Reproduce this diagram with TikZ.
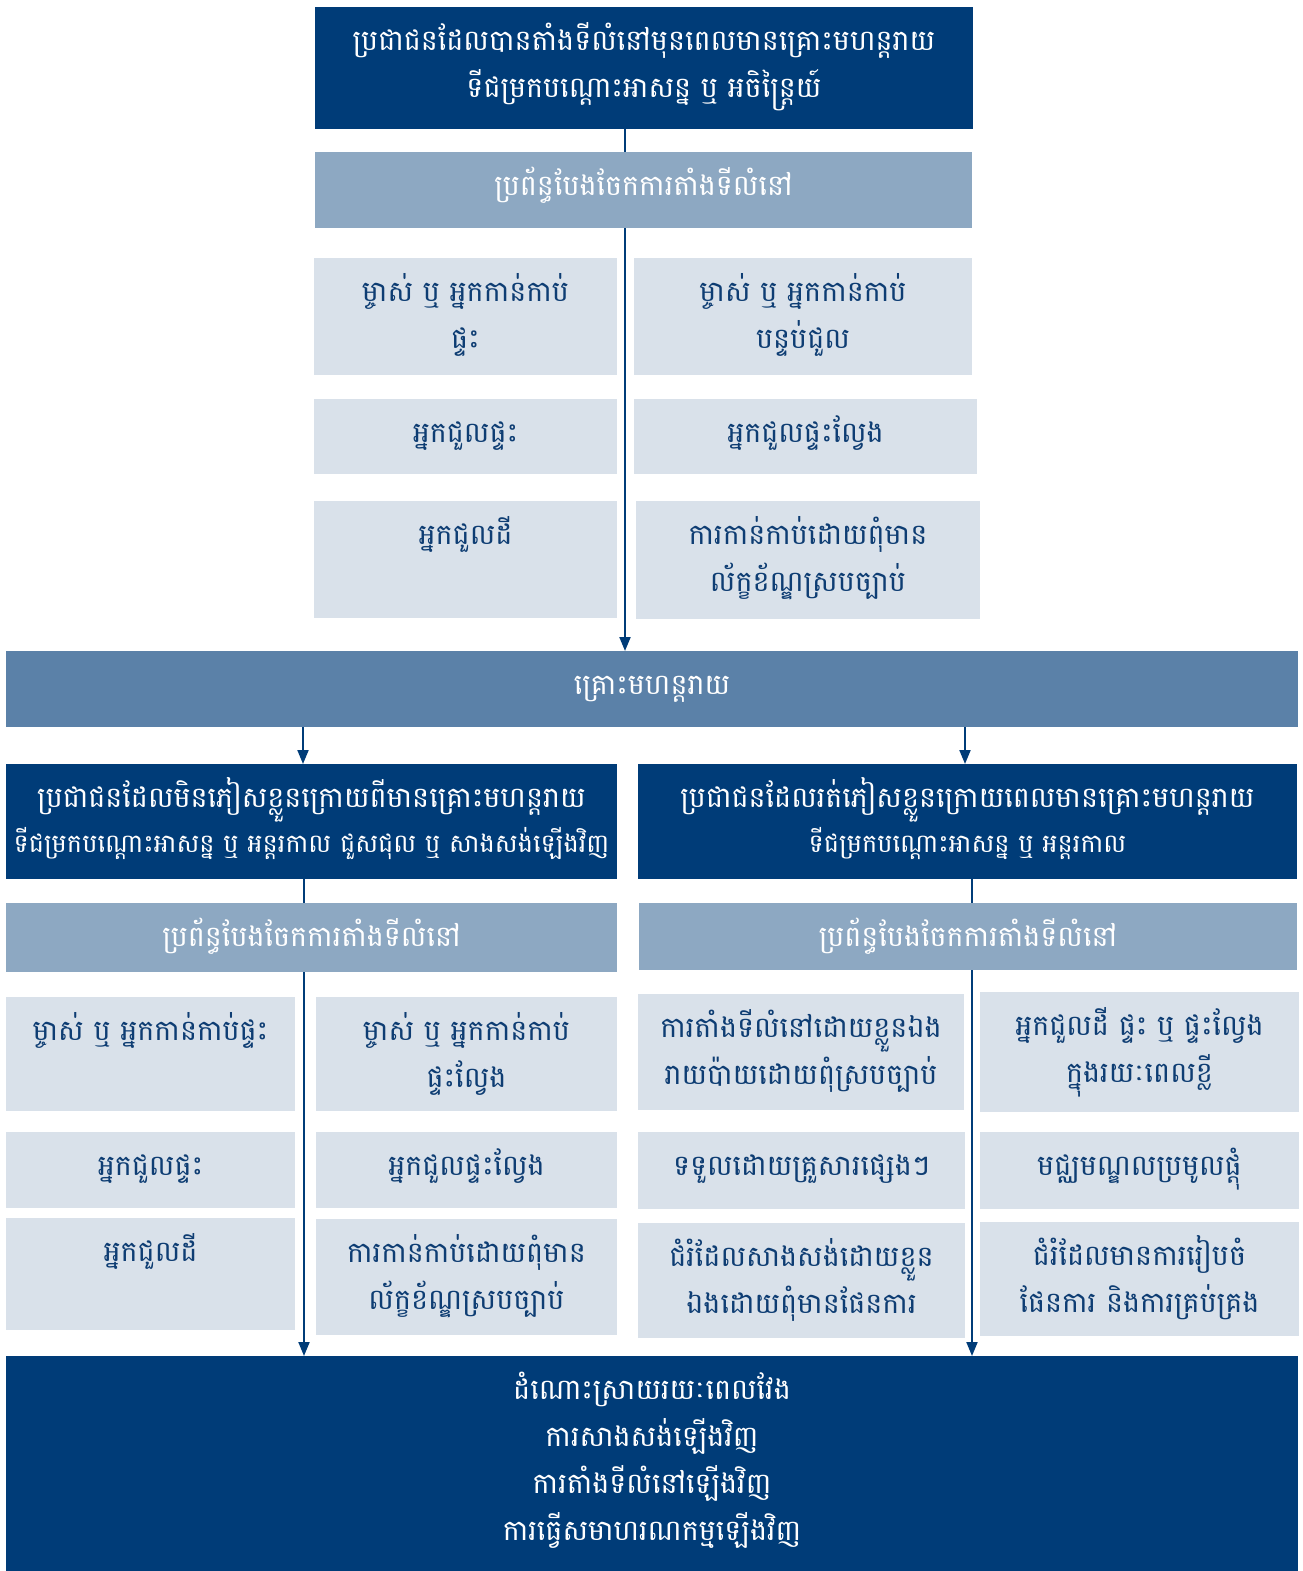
\documentclass[tikz,border=0pt]{standalone}
\usepackage{fontspec}
\newfontfamily\kh[Script=Khmer]{Battambang}
\usetikzlibrary{arrows.meta}

\definecolor{navy}{HTML}{003C78}
\definecolor{hdrblue}{HTML}{8DA8C2}
\definecolor{midblue}{HTML}{5B81A8}
\definecolor{pale}{HTML}{D9E1EA}
\definecolor{inkblue}{HTML}{0E3D73}

% #1 name, #2 fill, #3 text colour, #4 x1, #5 y1, #6 x2, #7 y2, #8 text
\newcommand\kbox[8]{%
  \node[panel, fill=#2, minimum width={(#6-#4)*1pt}, minimum height={(#7-#5)*1pt}]
    (#1) at (#4,#5) {};
  \node[label text, text=#3] (#1-t) at ([yshift=-9pt]#1.north) {\rule{0pt}{34pt}#8};
}

\begin{document}
\begin{tikzpicture}[x=1pt,y=-1pt,
  panel/.style={anchor=north west, inner sep=0pt, outer sep=0pt, draw=none},
  label text/.style={anchor=north, inner sep=0pt, align=center,
    font=\kh\fontsize{28.6}{47}\selectfont},
  link/.style={draw=navy, line width=2pt},
  flow/.style={link, -{Triangle[length=14pt,width=11pt]}}]
\useasboundingbox (0,0) rectangle (1303,1571);

% --- before the disaster ---
\kbox{pre}{navy}{white}{315}{7}{973}{129}{ប្រជាជនដែលបានតាំងទីលំនៅមុនពេលមានគ្រោះមហន្តរាយ\\ទីជម្រកបណ្ដោះអាសន្ន ឬ អចិន្ត្រៃយ៍}
\kbox{sysA}{hdrblue}{white}{315}{152}{972}{228}{ប្រព័ន្ធបែងចែកការតាំងទីលំនៅ}

\kbox{a11}{pale}{inkblue}{314}{258}{617}{375}{ម្ចាស់ ឬ អ្នកកាន់កាប់\\ផ្ទះ}
\kbox{a12}{pale}{inkblue}{634}{258}{972}{375}{ម្ចាស់ ឬ អ្នកកាន់កាប់\\បន្ទប់ជួល}
\kbox{a21}{pale}{inkblue}{314}{399}{617}{474}{អ្នកជួលផ្ទះ}
\kbox{a22}{pale}{inkblue}{634}{399}{977}{474}{អ្នកជួលផ្ទះល្វែង}
\kbox{a31}{pale}{inkblue}{314}{501}{617}{618}{អ្នកជួលដី}
\kbox{a32}{pale}{inkblue}{636}{501}{980}{619}{ការកាន់កាប់ដោយពុំមាន\\ល័ក្ខខ័ណ្ឌស្របច្បាប់}

% --- the disaster ---
\kbox{dis}{midblue}{white}{6}{651}{1298}{727}{គ្រោះមហន្តរាយ}

% --- after the disaster ---
\kbox{stay}{navy}{white}{6}{764}{617}{879}{ប្រជាជនដែលមិនភៀសខ្លួនក្រោយពីមានគ្រោះមហន្តរាយ\\[-2pt]{\fontsize{25.6}{45}\selectfont ទីជម្រកបណ្ដោះអាសន្ន ឬ អន្តរកាល ជួសជុល ឬ សាងសង់ឡើងវិញ}}
\kbox{flee}{navy}{white}{638}{764}{1297}{879}{ប្រជាជនដែលរត់ភៀសខ្លួនក្រោយពេលមានគ្រោះមហន្តរាយ\\[-2pt]{\fontsize{25.6}{45}\selectfont ទីជម្រកបណ្ដោះអាសន្ន ឬ អន្តរកាល}}
\kbox{sysL}{hdrblue}{white}{6}{903}{617}{972}{ប្រព័ន្ធបែងចែកការតាំងទីលំនៅ}
\kbox{sysR}{hdrblue}{white}{639}{903}{1297}{970}{ប្រព័ន្ធបែងចែកការតាំងទីលំនៅ}

\kbox{l11}{pale}{inkblue}{6}{997}{295}{1111}{ម្ចាស់ ឬ អ្នកកាន់កាប់ផ្ទះ}
\kbox{l12}{pale}{inkblue}{316}{997}{617}{1111}{ម្ចាស់ ឬ អ្នកកាន់កាប់\\ផ្ទះល្វែង}
\kbox{l21}{pale}{inkblue}{6}{1132}{295}{1208}{អ្នកជួលផ្ទះ}
\kbox{l22}{pale}{inkblue}{316}{1132}{617}{1208}{អ្នកជួលផ្ទះល្វែង}
\kbox{l31}{pale}{inkblue}{6}{1218}{295}{1330}{អ្នកជួលដី}
\kbox{l32}{pale}{inkblue}{316}{1219}{617}{1335}{ការកាន់កាប់ដោយពុំមាន\\ល័ក្ខខ័ណ្ឌស្របច្បាប់}

\kbox{r11}{pale}{inkblue}{638}{994}{964}{1110}{ការតាំងទីលំនៅដោយខ្លួនឯង\\រាយប៉ាយដោយពុំស្របច្បាប់}
\kbox{r12}{pale}{inkblue}{980}{992}{1299}{1112}{អ្នកជួលដី ផ្ទះ ឬ ផ្ទះល្វែង\\ក្នុងរយៈពេលខ្លី}
\kbox{r21}{pale}{inkblue}{638}{1132}{965}{1209}{ទទួលដោយគ្រួសារផ្សេងៗ}
\kbox{r22}{pale}{inkblue}{980}{1132}{1299}{1209}{មជ្ឈមណ្ឌលប្រមូលផ្ដុំ}
\kbox{r31}{pale}{inkblue}{638}{1223}{965}{1338}{ជំរំដែលសាងសង់ដោយខ្លួន\\ឯងដោយពុំមានផែនការ}
\kbox{r32}{pale}{inkblue}{980}{1222}{1299}{1336}{ជំរំដែលមានការរៀបចំ\\ផែនការ និងការគ្រប់គ្រង}

% --- long-term solutions ---
\kbox{sol}{navy}{white}{6}{1356}{1298}{1571}{ដំណោះស្រាយរយៈពេលវែង\\ការសាងសង់ឡើងវិញ\\ការតាំងទីលំនៅឡើងវិញ\\ការធ្វើសមាហរណកម្មឡើងវិញ}

% --- connectors ---
\coordinate (xa) at (625,0);
\coordinate (xl) at (303,0);
\coordinate (xll) at (304,0);
\coordinate (xr) at (965,0);
\coordinate (xrr) at (972,0);

\draw[link] (pre.south -| xa) -- (sysA.north -| xa);
\draw[flow] (sysA.south -| xa) -- (dis.north -| xa);
\draw[flow] (dis.south -| xl) -- (stay.north -| xl);
\draw[flow] (dis.south -| xr) -- (flee.north -| xr);
\draw[link] (stay.south -| xll) -- (sysL.north -| xll);
\draw[link] (flee.south -| xrr) -- (sysR.north -| xrr);
\draw[flow] (sysL.south -| xll) -- (sol.north -| xll);
\draw[flow] (sysR.south -| xrr) -- (sol.north -| xrr);
\end{tikzpicture}
\end{document}
